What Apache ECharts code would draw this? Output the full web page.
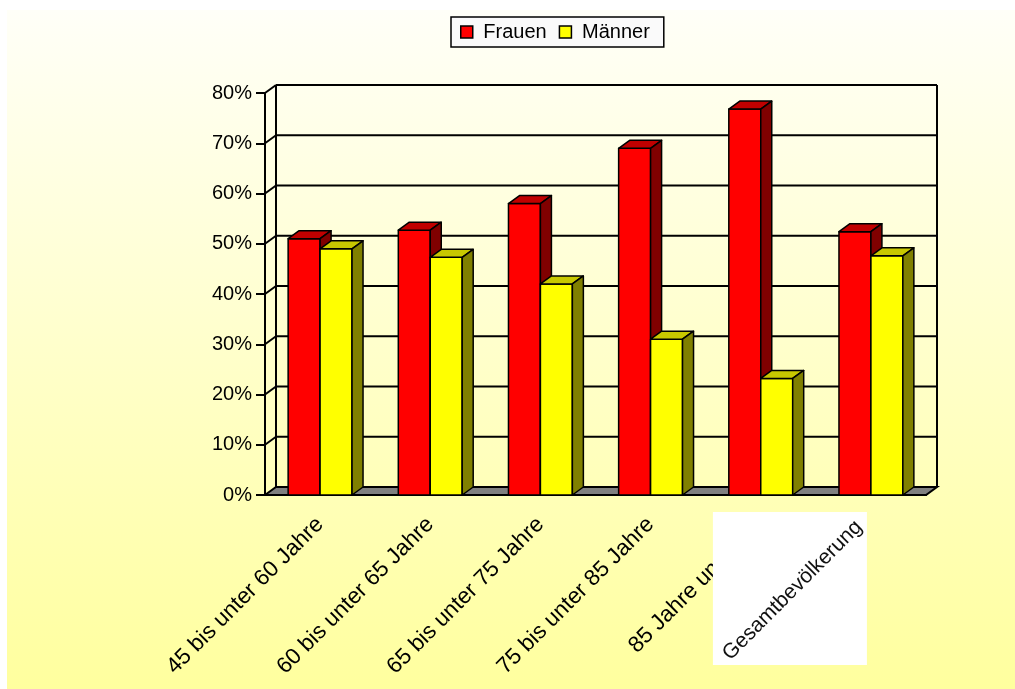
<!DOCTYPE html>
<html>
<head>
<meta charset="utf-8">
<script src="https://cdn.jsdelivr.net/npm/echarts@6/dist/echarts.min.js"></script>
<style>
html,body{margin:0;padding:0;background:#fff}
#main{width:1015px;height:689px}
</style>
</head>
<body>
<div id="main"></div>
<script>
// Anteil nach Geschlecht je Altersgruppe (in %)
var categories = ['45 bis unter 60 Jahre', '60 bis unter 65 Jahre', '65 bis unter 75 Jahre',
  '75 bis unter 85 Jahre', '85 Jahre und älter', 'Gesamtbevölkerung']
var frauen = [51, 52.7, 58, 69, 76.8, 52.4]
var maenner = [49, 47.3, 42, 31, 23.2, 47.6]
var yTicks = [0, 10, 20, 30, 40, 50, 60, 70, 80]

var FONT = 'Liberation Sans, Arial, sans-serif'
var DX = 11, DY = 8

var chart = echarts.init(document.getElementById('main'))

function catEdges(api){
  var w = api.size([1, 0])[0]
  var left = api.coord([0, 0])[0] - w / 2
  var right = api.coord([categories.length - 1, 0])[0] + w / 2
  return [left, right]
}

// Rahmen: Boden, Rueckwand, Seitenwand
function renderFrame(params, api){
  var e = catEdges(api)
  var l = e[0], r = e[1]
  var y0 = api.coord([0, 0])[1]
  var yTop = api.coord([0, yTicks[yTicks.length - 1]])[1]
  var line = {stroke: '#000', lineWidth: 2}
  var kids = []
  kids.push({type: 'polygon', shape: {points: [[l, y0], [r, y0], [r + DX, y0 - DY], [l + DX, y0 - DY]]},
    style: {fill: '#808080', stroke: '#000', lineWidth: 2}})
  yTicks.forEach(function(t){
    if (t === 0) return
    var y = api.coord([0, t])[1]
    kids.push({type: 'line', shape: {x1: l + DX, y1: y - DY, x2: r + DX, y2: y - DY}, style: line})
    kids.push({type: 'line', shape: {x1: l, y1: y, x2: l + DX, y2: y - DY}, style: line})
  })
  kids.push({type: 'line', shape: {x1: l + DX, y1: y0 - DY, x2: l + DX, y2: yTop - DY}, style: line})
  kids.push({type: 'line', shape: {x1: r + DX, y1: y0 - DY, x2: r + DX, y2: yTop - DY}, style: line})
  return {type: 'group', children: kids}
}

function makeBar(front, top, side, leftSide){
  return function(params, api){
    var idx = api.value(0)
    var p = api.coord([idx, api.value(1)])
    var base = api.coord([idx, 0])[1]
    var bw = api.size([1, 0])[0] * 0.29
    var x0 = leftSide ? p[0] - bw : p[0]
    var t = p[1]
    var st = {stroke: '#000', lineWidth: 1.5, lineJoin: 'round'}
    return {type: 'group', children: [
      {type: 'rect', shape: {x: x0, y: t, width: bw, height: base - t}, style: Object.assign({fill: front}, st)},
      {type: 'polygon', shape: {points: [[x0, t], [x0 + bw, t], [x0 + bw + DX, t - DY], [x0 + DX, t - DY]]},
        style: Object.assign({fill: top}, st)},
      {type: 'polygon', shape: {points: [[x0 + bw, t], [x0 + bw + DX, t - DY], [x0 + bw + DX, base - DY], [x0 + bw, base]]},
        style: Object.assign({fill: side}, st)}
    ]}
  }
}

// weisser Kasten mit letzter Kategorie
function renderLastLabel(params, api){
  var c = api.coord([api.value(0), 0])
  return {type: 'group', children: [
    {type: 'rect', shape: {x: c[0] - 158, y: c[1] + 17, width: 154, height: 153}, style: {fill: '#fff'}},
    {type: 'text', x: c[0] - 12, y: c[1] + 29, rotation: Math.PI / 4,
      style: {text: categories[categories.length - 1], font: '21px ' + FONT, fill: '#111',
        align: 'right', verticalAlign: 'middle'}}
  ]}
}

chart.setOption({
  backgroundColor: '#fff',
  animation: false,
  graphic: [{
    type: 'rect', z: -10, silent: true,
    shape: {x: 7, y: 10, width: 1008, height: 679},
    style: {fill: new echarts.graphic.LinearGradient(0, 0, 0, 1, [
      {offset: 0, color: '#fffff8'}, {offset: 1, color: '#ffff9e'}])}
  }],
  legend: {
    left: 451, top: 17,
    data: [
      {name: 'Frauen', itemStyle: {color: '#ff0000', borderColor: '#000', borderWidth: 1.5}},
      {name: 'Männer', itemStyle: {color: '#ffff00', borderColor: '#000', borderWidth: 1.5}}
    ],
    formatter: function(n){ return ' ' + n },
    icon: 'rect', itemWidth: 12, itemHeight: 12, itemGap: 12,
    padding: [5, 14, 5, 9],
    backgroundColor: '#fafafa', borderColor: '#000', borderWidth: 1.5,
    textStyle: {fontFamily: FONT, fontSize: 20, color: '#000'}
  },
  grid: {left: 265, right: 89, top: 93, bottom: 194},
  xAxis: {
    type: 'category', data: categories,
    axisLine: {lineStyle: {color: '#000', width: 2}},
    axisTick: {length: 9, lineStyle: {color: '#000', width: 2}},
    axisLabel: {rotate: 45, margin: 26, interval: 0, fontFamily: FONT, fontSize: 22.5, color: '#000',
      formatter: function(v, i){ return i === categories.length - 1 ? '' : v }},
    splitLine: {show: false}
  },
  yAxis: {
    type: 'value', min: 0, max: 80, interval: 10,
    axisLine: {show: true, lineStyle: {color: '#000', width: 2}},
    axisTick: {show: true, length: 9, lineStyle: {color: '#000', width: 2}},
    axisLabel: {margin: 13, fontFamily: FONT, fontSize: 20, color: '#000', formatter: '{value}%'},
    splitLine: {show: false}
  },
  series: [
    {type: 'custom', name: 'frame', renderItem: renderFrame, data: [[0, 0]], z: 1, silent: true},
    {type: 'custom', name: 'Frauen', renderItem: makeBar('#ff0000', '#c00000', '#800000', true),
      itemStyle: {color: '#ff0000'}, data: frauen.map(function(v, i){ return [i, v] }), z: 2},
    {type: 'custom', name: 'Männer', renderItem: makeBar('#ffff00', '#c8c800', '#808000', false),
      itemStyle: {color: '#ffff00'}, data: maenner.map(function(v, i){ return [i, v] }), z: 2},
    {type: 'custom', name: 'label', renderItem: renderLastLabel, data: [[categories.length - 1, 0]], z: 5, silent: true}
  ]
})
</script>
</body>
</html>
